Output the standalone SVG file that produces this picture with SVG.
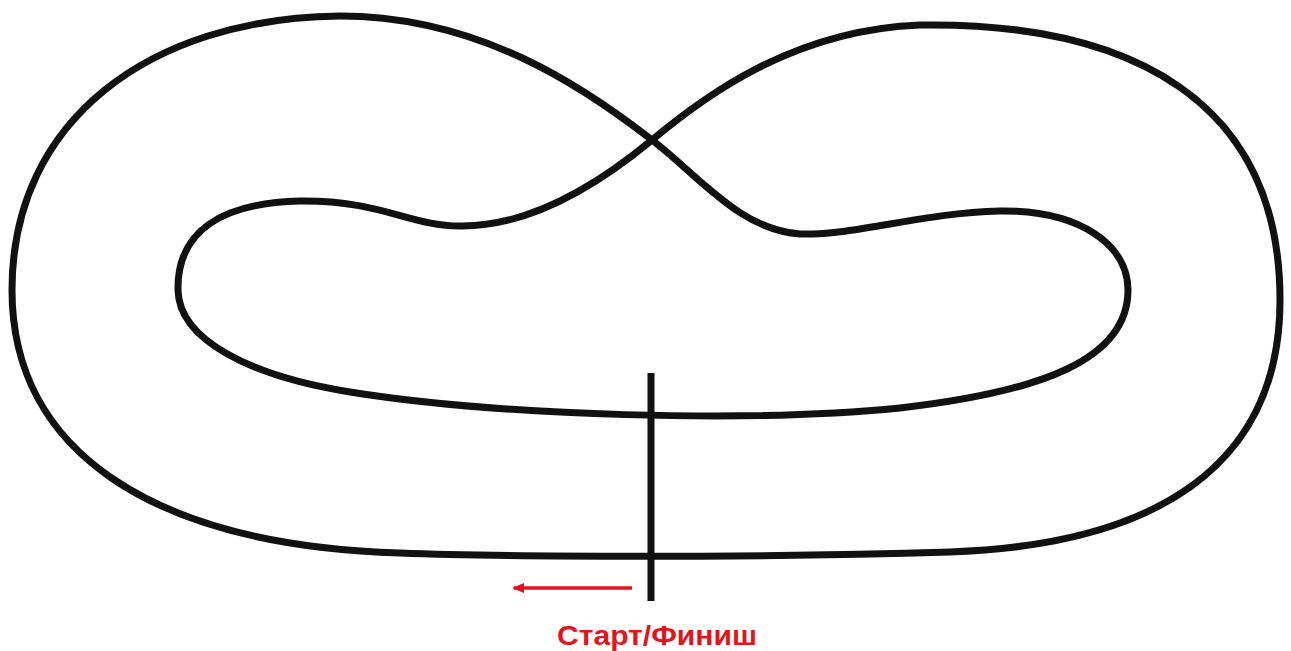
<svg xmlns="http://www.w3.org/2000/svg" width="1291" height="651" viewBox="0 0 1291 651">
<style>
.track{fill:none;stroke:#111;stroke-width:7;stroke-linejoin:round}
.start{stroke:#111;stroke-width:7}
.arrow{stroke:#e3141e;stroke-width:3.5}
.label{font-family:"Liberation Sans",Arial,sans-serif;font-weight:bold;font-size:27px;fill:#e3141e}
</style>
<defs>
<marker id="ah" markerWidth="12" markerHeight="10" refX="10" refY="5" orient="auto" markerUnits="userSpaceOnUse" viewBox="0 0 12 10">
<path d="M0,0 L12,5 L0,10 Z" fill="#e3141e"/>
</marker>
</defs>
<rect width="1291" height="651" fill="#fff"/>
<g id="track">
<path class="track" d="M652,140 C700,177 740,230 800,234 C860,235 920,213 1000,211 C1080,210 1128,245 1128,290 C1128,360 1040,392 900,408 C750,423 500,416 350,392 C250,376 179,340 178,290 C177,232 220,203 300,201 C380,200 410,226 460,226 C530,227 600,183 652,140 C700,100 790,30 920,25 C1130,22 1280,100 1280,300 C1280,470 1150,545 950,552 C750,558 500,557 400,553 C150,545 12,450 12,290 C12,120 150,18 340,16 C480,16 585,88 652,140 Z"/>
</g>
<g id="start-finish">
<line class="start" x1="651" y1="373" x2="651" y2="601"/>
<line class="arrow" x1="632" y1="588" x2="514" y2="588" marker-end="url(#ah)"/>
<text class="label" x="657" y="645" text-anchor="middle" textLength="200" lengthAdjust="spacingAndGlyphs">Старт/Финиш</text>
</g>
</svg>
